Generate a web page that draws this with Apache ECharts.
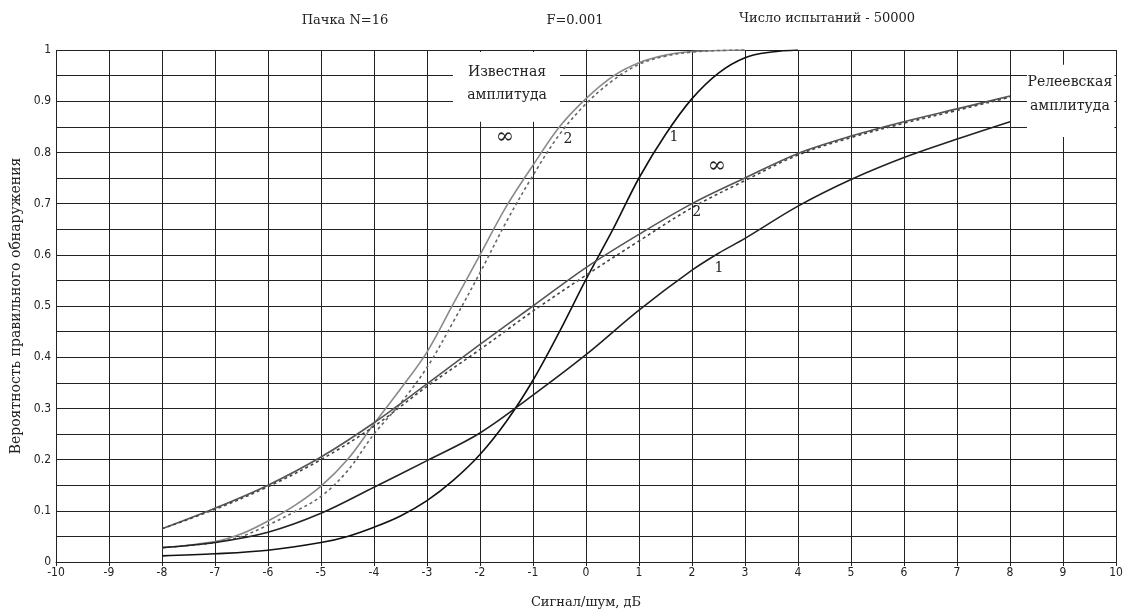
<!DOCTYPE html>
<html>
<head>
<meta charset="utf-8">
<script src="https://cdn.jsdelivr.net/npm/echarts@6/dist/echarts.min.js"></script>
<style>html,body{margin:0;padding:0;background:#fff}#c{width:1129px;height:611px}</style>
</head>
<body>
<div id="c"></div>
<script>
// Known amplitude, pack of N=16
var knownInf = [[-8,0.028],[-7,0.04],[-6.5,0.055],[-6,0.08],[-5.5,0.11],[-5,0.148],[-4.5,0.2],[-4,0.27],[-3.5,0.338],[-3,0.41],[-2.5,0.505],[-2,0.6],[-1.5,0.695],[-1,0.775],[-0.5,0.85],[0,0.905],[0.5,0.948],[1,0.975],[1.5,0.99],[2,0.997],[2.5,0.999],[3,1.0]];
var knownTwo = [[-8,0.028],[-7,0.038],[-6.5,0.05],[-6,0.072],[-5.5,0.098],[-5,0.128],[-4.5,0.178],[-4,0.25],[-3.5,0.31],[-3,0.38],[-2.5,0.47],[-2,0.565],[-1.5,0.665],[-1,0.755],[-0.5,0.835],[0,0.895],[0.5,0.94],[1,0.972],[1.5,0.988],[2,0.996],[2.5,0.999],[3,1.0]];
var knownOne = [[-8,0.012],[-7,0.016],[-6,0.023],[-5,0.038],[-4.5,0.05],[-4,0.068],[-3.5,0.09],[-3,0.12],[-2.5,0.16],[-2,0.21],[-1.5,0.275],[-1,0.355],[-0.5,0.45],[0,0.552],[0.5,0.648],[1,0.75],[1.5,0.835],[2,0.905],[2.5,0.955],[3,0.985],[3.5,0.996],[4,1.0]];
// Rayleigh amplitude
var rayInf = [[-8,0.065],[-7,0.105],[-6,0.15],[-5,0.205],[-4,0.272],[-3,0.348],[-2,0.425],[-1,0.5],[0,0.575],[1,0.64],[2,0.7],[3,0.75],[4,0.798],[5,0.832],[6,0.86],[7,0.885],[8,0.91]];
var rayTwo = [[-8,0.065],[-7,0.103],[-6,0.147],[-5,0.2],[-4,0.265],[-3,0.343],[-2,0.415],[-1,0.49],[0,0.56],[1,0.627],[2,0.692],[3,0.745],[4,0.795],[5,0.829],[6,0.857],[7,0.882],[8,0.908]];
var rayOne = [[-8,0.028],[-7,0.038],[-6,0.058],[-5,0.095],[-4,0.146],[-3,0.198],[-2,0.252],[-1,0.326],[0,0.405],[1,0.492],[2,0.57],[2.5,0.603],[3,0.632],[4,0.695],[5,0.747],[6,0.79],[7,0.826],[8,0.86]];

var titles = ['Пачка N=16', 'F=0.001', 'Число испытаний - 50000'];
var xName = 'Сигнал/шум, дБ';
var yName = 'Вероятность правильного обнаружения';

var serif = "'DejaVu Serif','Liberation Serif',serif";
var narrow = "'Liberation Sans Narrow','Arial Narrow','DejaVu Sans Condensed',sans-serif";

var chart = echarts.init(document.getElementById('c'));
function line(name, data, color, dashed) {
  return {
    name: name, type: 'line', data: data, symbol: 'none', smooth: 0.35, z: 3,
    lineStyle: { color: color, width: 1.6, type: dashed ? [3, 3] : 'solid' }
  };
}
var tStyle = { fontFamily: serif, fontSize: 13, fontWeight: 'normal', color: '#222' };
chart.setOption({
  animation: false,
  backgroundColor: '#fff',
  title: [
    { text: titles[0], left: 340, top: 9, textAlign: 'center', textStyle: tStyle },
    { text: titles[1], left: 570, top: 9, textAlign: 'center', textStyle: tStyle },
    { text: titles[2], left: 822, top: 7, textAlign: 'center', textStyle: tStyle }
  ],
  grid: { left: 56, right: 13, top: 50, bottom: 49, containLabel: false, outerBoundsMode: 'none' },
  xAxis: {
    type: 'value', min: -10, max: 10, interval: 1,
    name: xName, nameLocation: 'middle', nameGap: 34,
    nameTextStyle: { fontFamily: serif, fontSize: 13, color: '#222' },
    axisLine: { lineStyle: { color: '#222', width: 1 } },
    axisTick: { show: true, length: 4, lineStyle: { color: '#222' } },
    axisLabel: { fontFamily: narrow, fontSize: 12, color: '#222', margin: 5 },
    splitLine: { show: true, lineStyle: { color: '#222', width: 1 } }
  },
  yAxis: {
    type: 'value', min: 0, max: 1, interval: 0.05,
    name: yName, nameLocation: 'middle', nameGap: 33, nameRotate: 90,
    nameTextStyle: { fontFamily: serif, fontSize: 14, color: '#222' },
    axisLine: { show: true, lineStyle: { color: '#222', width: 1 } },
    axisTick: { show: true, length: 3, lineStyle: { color: '#222' },
      interval: function (i) { return i % 2 === 0; } },
    axisLabel: { fontFamily: narrow, fontSize: 12, color: '#222', margin: 5,
      formatter: function (v) { var k = Math.round(v * 100); return k % 10 === 0 ? String(k / 100) : ''; } },
    splitLine: { show: true, lineStyle: { color: '#222', width: 1 } }
  },
  series: [
    line('Известная ∞', knownInf, '#8a8a8a', false),
    line('Известная 2', knownTwo, '#666', true),
    line('Известная 1', knownOne, '#111', false),
    line('Релеевская ∞', rayInf, '#555', false),
    line('Релеевская 2', rayTwo, '#444', true),
    line('Релеевская 1', rayOne, '#222', false)
  ]
});

function px(x, y) { return chart.convertToPixel({ gridIndex: 0 }, [x, y]); }
function box(x0, y0, x1, y1) {
  var a = px(x0, y0), b = px(x1, y1);
  return { type: 'rect', z: 1, silent: true,
    shape: { x: a[0], y: a[1], width: b[0] - a[0], height: b[1] - a[1] },
    style: { fill: '#fff' } };
}
function txt(s, x, y, size) {
  var p = px(x, y);
  return { type: 'text', z: 5, silent: true, x: p[0], y: p[1],
    style: { text: s, fill: '#222', font: (size || 14) + 'px ' + serif, align: 'center', verticalAlign: 'middle' } };
}
chart.setOption({
  graphic: [
    box(-2.51, 0.996, -0.49, 0.86),
    box(8.32, 0.971, 9.97, 0.83),
    txt('Известная', -1.49, 0.957),
    txt('амплитуда', -1.49, 0.912),
    txt('Релеевская', 9.13, 0.9375),
    txt('амплитуда', 9.13, 0.89),
    txt('∞', -1.53, 0.83, 22),
    txt('2', -0.34, 0.826),
    txt('1', 1.66, 0.83),
    txt('∞', 2.47, 0.773, 22),
    txt('2', 2.09, 0.682),
    txt('1', 2.51, 0.574)
  ]
});
</script>
</body>
</html>
